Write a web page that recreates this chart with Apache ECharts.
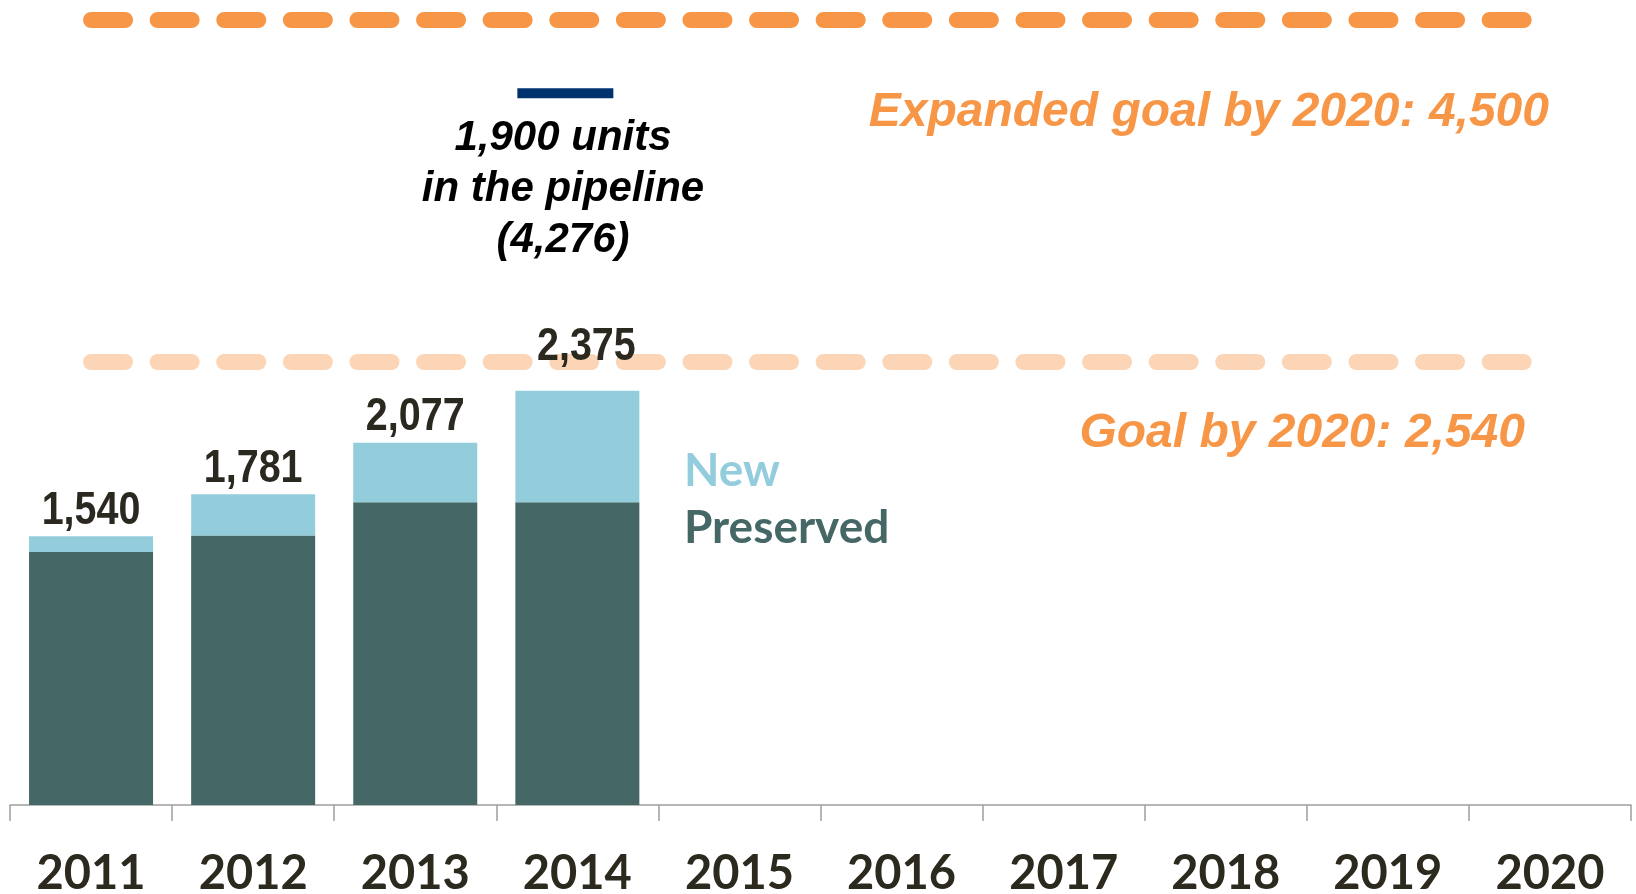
<!DOCTYPE html>
<html>
<head>
<meta charset="utf-8">
<script src="https://cdn.jsdelivr.net/npm/echarts@6/dist/echarts.min.js"></script>
<style>
html,body{margin:0;padding:0;background:#fff;}
#chart{width:1636px;height:894px;}
</style>
</head>
<body>
<div id="chart"></div>
<script>
// ---- data ----
var years = ['2011','2012','2013','2014','2015','2016','2017','2018','2019','2020'];
var preserved = [1451, 1545, 1736, 1736, null, null, null, null, null, null];
var newUnits  = [89, 236, 341, 639, null, null, null, null, null, null];
var totals    = [1540, 1781, 2077, 2375];
var goalValue = 2540;
var expandedGoalValue = 4500;
var pipelineMarker = [['2014', 4080]];
var goalText = 'Goal by 2020: 2,540';
var expandedGoalText = 'Expanded goal by 2020: 4,500';
var pipelineText = '1,900 units\nin the pipeline\n(4,276)';

var chart = echarts.init(document.getElementById('chart'), null, {renderer:'canvas'});

var dashPattern = [34, 32.6];
var labelOffsets = [[0, -2], [0, -2], [0, -2], [9, -20]];

var option = {
  animation: false,
  backgroundColor: '#ffffff',
  grid: {left: 10, right: 5, top: 20, bottom: 89, containLabel: false, outerBoundsMode: 'none'},
  legend: {
    orient: 'vertical',
    left: 674,
    top: 443,
    itemGap: 11,
    itemWidth: 0,
    itemHeight: 0,
    icon: 'rect',
    selectedMode: false,
    textStyle: {fontFamily: 'Lato', fontWeight: 'bold', fontSize: 46},
    data: [
      {name: 'New', textStyle: {color: '#93CDDD'}},
      {name: 'Preserved', textStyle: {color: '#456866'}}
    ]
  },
  xAxis: {
    type: 'category',
    data: years,
    boundaryGap: true,
    axisLine: {show: true, lineStyle: {color: '#9E9E9E', width: 1.5}},
    axisTick: {show: true, length: 16, alignWithLabel: false, lineStyle: {color: '#9E9E9E', width: 1.5}},
    axisLabel: {
      margin: 45,
      fontFamily: 'Lato',
      fontWeight: 'bold',
      fontSize: 47,
      color: '#2C291E',
      interval: 0
    },
    splitLine: {show: false}
  },
  yAxis: {
    type: 'value',
    min: 0,
    max: 4500,
    show: false,
    splitLine: {show: false}
  },
  series: [
    {
      name: 'Preserved',
      type: 'bar',
      stack: 'units',
      data: preserved,
      barWidth: '76.5%',
      itemStyle: {color: '#456866'},
      z: 3
    },
    {
      name: 'New',
      type: 'bar',
      stack: 'units',
      data: newUnits,
      itemStyle: {color: '#93CDDC'},
      z: 3
    },
    {
      name: 'Totals',
      type: 'custom',
      data: totals.map(function (t, i) { return [i, t]; }),
      z: 5,
      silent: true,
      renderItem: function (params, api) {
        var pt = api.coord([api.value(0), api.value(1)]);
        var off = labelOffsets[params.dataIndex] || [0, -2];
        return {
          type: 'text',
          x: pt[0] + off[0],
          y: pt[1] + off[1],
          scaleX: 0.84,
          style: {
            x: 0, y: 0,
            text: api.value(1).toLocaleString('en-US'),
            align: 'center',
            verticalAlign: 'bottom',
            font: 'bold 47px "Liberation Sans", Arial, sans-serif',
            fill: '#2B2820'
          }
        };
      }
    },
    {
      name: 'Pipeline',
      type: 'scatter',
      data: pipelineMarker,
      symbol: 'rect',
      symbolSize: [96, 10],
      symbolOffset: [-12, 0],
      itemStyle: {color: '#00306E', opacity: 1},
      z: 2,
      markLine: {
        silent: true,
        symbol: 'none',
        label: {show: false},
        z: 1,
        data: [
          [
            {coord: ['2011', expandedGoalValue], lineStyle: {color: '#F79646', width: 16, type: dashPattern, cap: 'round', opacity: 1}},
            {coord: ['2020', expandedGoalValue]}
          ],
          [
            {coord: ['2011', goalValue], lineStyle: {color: '#FBD5B5', width: 16, type: dashPattern, cap: 'round', opacity: 1}},
            {coord: ['2020', goalValue]}
          ]
        ]
      }
    }
  ],
  graphic: [
    {
      type: 'text',
      z: 10,
      style: {
        text: expandedGoalText,
        x: 1549, y: 113,
        align: 'right', verticalAlign: 'middle',
        font: 'italic bold 48px "Liberation Sans", Arial, sans-serif',
        fill: '#F79646'
      }
    },
    {
      type: 'text',
      z: 10,
      style: {
        text: goalText,
        x: 1525, y: 434,
        align: 'right', verticalAlign: 'middle',
        font: 'italic bold 48px "Liberation Sans", Arial, sans-serif',
        fill: '#F79646'
      }
    },
    {
      type: 'text',
      z: 10,
      style: {
        text: pipelineText,
        x: 563, y: 189,
        align: 'center', verticalAlign: 'middle',
        lineHeight: 51,
        font: 'italic bold 42px "Liberation Sans", Arial, sans-serif',
        fill: '#000000'
      }
    }
  ]
};
chart.setOption(option);
</script>
</body>
</html>
